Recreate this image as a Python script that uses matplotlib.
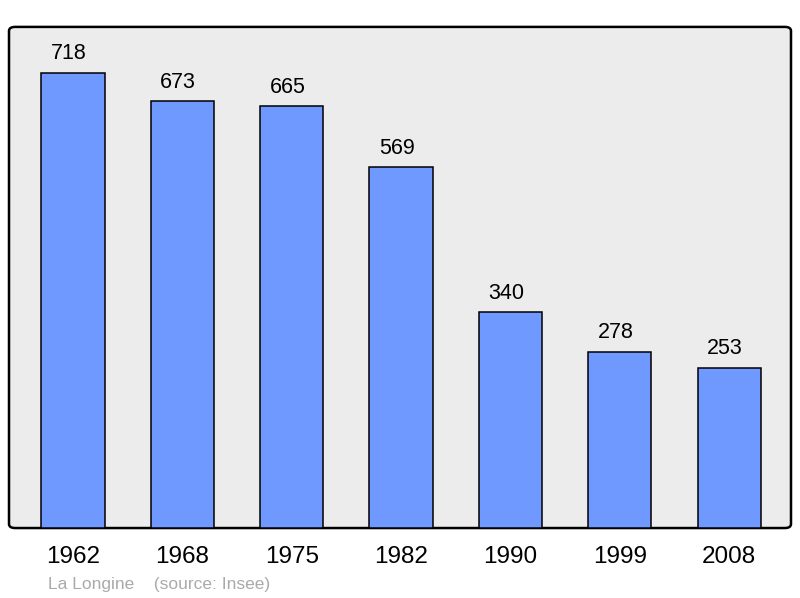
import matplotlib.pyplot as plt
from matplotlib.patches import FancyBboxPatch

plt.rcParams['font.family'] = ['Liberation Sans', 'DejaVu Sans']

years = ['1962', '1968', '1975', '1982', '1990', '1999', '2008']
population = [718, 673, 665, 569, 340, 278, 253]

fig = plt.figure(figsize=(8, 5.98), dpi=100)
ax = fig.add_axes([0.01125, 0.117, 0.9775, 0.838])
ax.set_facecolor('none')

# rounded frame behind the bars
frame = FancyBboxPatch((0, 0), 1, 1, transform=ax.transAxes,
                       boxstyle='round,pad=0,rounding_size=0.008',
                       facecolor='#ececec', edgecolor='black', linewidth=1.8,
                       zorder=0, clip_on=False)
ax.add_patch(frame)

x = list(range(len(years)))
bars = ax.bar(x, population, width=0.578, color='#7099ff',
              edgecolor='black', linewidth=1.1, zorder=2)

for xi, val in zip(x, population):
    ax.annotate(str(val), (xi, val), xytext=(-3, 6), textcoords='offset points',
                ha='center', va='bottom', fontsize=15.5)

ax.set_xlim(-0.585, 6.565)
ax.set_ylim(0, 790)
ax.set_xticks(x)
ax.set_xticklabels(years, fontsize=17.5)
ax.tick_params(axis='x', length=0, pad=13)
ax.set_yticks([])
for s in ax.spines.values():
    s.set_visible(False)

fig.text(0.06, 0.01, 'La Longine    (source: Insee)', fontsize=12.5,
         color='#aaaaaa', ha='left', va='bottom')

fig.savefig('out.png', dpi=100, facecolor='white')
